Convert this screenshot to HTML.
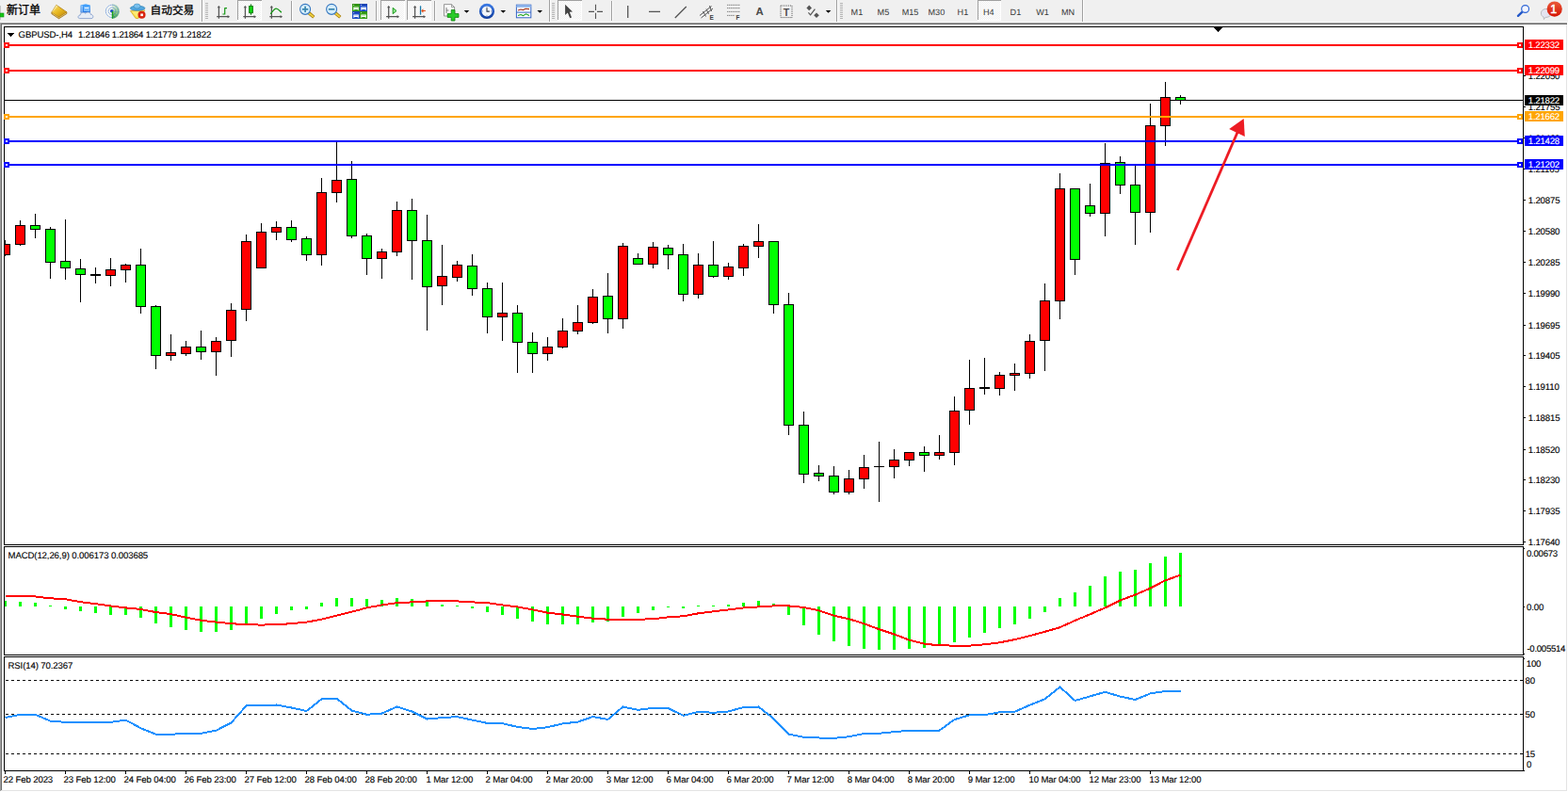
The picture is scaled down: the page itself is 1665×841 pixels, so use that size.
<!DOCTYPE html><html><head><meta charset="utf-8"><title>GBPUSD H4</title><style>
html,body{margin:0;padding:0;}
body{width:1665px;height:841px;position:relative;overflow:hidden;background:#fff;font-family:"Liberation Sans", sans-serif;}
.t{position:absolute;white-space:pre;font-size:9.6px;line-height:10px;color:#000;text-rendering:geometricPrecision;-webkit-text-stroke:0.12px currentColor;font-family:"Liberation Sans", sans-serif;}
.tb{position:absolute;white-space:pre;font-size:8.5px;line-height:10px;color:#3c3c3c;font-family:"Liberation Sans", sans-serif;}
.lab{position:absolute;left:1619px;width:41px;height:11px;color:#fff;font-size:9.3px;line-height:11px;white-space:pre;}
.lab span{position:absolute;left:4px;top:0;}
svg{position:absolute;left:0;top:0;}

</style></head><body>
<svg id="chart" width="1665" height="841" viewBox="0 0 1665 841" shape-rendering="crispEdges">
<rect x="0" y="0" width="1665" height="24" fill="#f0f0f0"/>
<rect x="0" y="23" width="1665" height="1" fill="#f8f8f8"/>
<rect x="0" y="24" width="1664" height="1" fill="#a0a0a0"/>
<rect x="1" y="25" width="1663" height="1" fill="#696969"/>
<rect x="1664" y="24" width="1" height="817" fill="#ffffff"/>
<rect x="0" y="24" width="1" height="816" fill="#a0a0a0"/><rect x="1" y="25" width="1" height="814" fill="#696969"/>
<rect x="1663" y="26" width="1" height="814" fill="#e3e3e3"/>
<rect x="1" y="839" width="1663" height="1" fill="#e3e3e3"/>
<rect x="0" y="840" width="1665" height="1" fill="#ffffff"/>
<rect x="4" y="28" width="1" height="551" fill="#000"/>
<rect x="1617" y="28" width="1" height="551" fill="#000"/>
<rect x="4" y="580" width="1" height="116" fill="#000"/>
<rect x="1617" y="580" width="1" height="116" fill="#000"/>
<rect x="4" y="697" width="1" height="122" fill="#000"/>
<rect x="1617" y="697" width="1" height="122" fill="#000"/>
<rect x="4" y="28" width="1614" height="1" fill="#000"/>
<rect x="4" y="578" width="1614" height="1" fill="#000"/>
<rect x="4" y="580" width="1614" height="1" fill="#000"/>
<rect x="4" y="695" width="1614" height="1" fill="#000"/>
<rect x="4" y="697" width="1614" height="1" fill="#000"/>
<rect x="4" y="818" width="1615" height="1" fill="#000"/>
<rect x="1618" y="582" width="1" height="1" fill="#000"/>
<rect x="1618" y="644" width="1" height="1" fill="#000"/>
<rect x="1618" y="694" width="1" height="1" fill="#000"/>
<rect x="1618" y="699" width="1" height="1" fill="#000"/>
<rect x="1618" y="80" width="2" height="1" fill="#000"/>
<rect x="1618" y="113" width="2" height="1" fill="#000"/>
<rect x="1618" y="146" width="2" height="1" fill="#000"/>
<rect x="1618" y="179" width="2" height="1" fill="#000"/>
<rect x="1618" y="212" width="2" height="1" fill="#000"/>
<rect x="1618" y="245" width="2" height="1" fill="#000"/>
<rect x="1618" y="278" width="2" height="1" fill="#000"/>
<rect x="1618" y="311" width="2" height="1" fill="#000"/>
<rect x="1618" y="345" width="2" height="1" fill="#000"/>
<rect x="1618" y="377" width="2" height="1" fill="#000"/>
<rect x="1618" y="410" width="2" height="1" fill="#000"/>
<rect x="1618" y="443" width="2" height="1" fill="#000"/>
<rect x="1618" y="477" width="2" height="1" fill="#000"/>
<rect x="1618" y="509" width="2" height="1" fill="#000"/>
<rect x="1618" y="542" width="2" height="1" fill="#000"/>
<rect x="1618" y="575" width="2" height="1" fill="#000"/>
<rect x="5" y="819" width="1" height="3" fill="#000"/>
<rect x="69" y="819" width="1" height="3" fill="#000"/>
<rect x="133" y="819" width="1" height="3" fill="#000"/>
<rect x="197" y="819" width="1" height="3" fill="#000"/>
<rect x="261" y="819" width="1" height="3" fill="#000"/>
<rect x="325" y="819" width="1" height="3" fill="#000"/>
<rect x="389" y="819" width="1" height="3" fill="#000"/>
<rect x="453" y="819" width="1" height="3" fill="#000"/>
<rect x="517" y="819" width="1" height="3" fill="#000"/>
<rect x="581" y="819" width="1" height="3" fill="#000"/>
<rect x="645" y="819" width="1" height="3" fill="#000"/>
<rect x="709" y="819" width="1" height="3" fill="#000"/>
<rect x="773" y="819" width="1" height="3" fill="#000"/>
<rect x="837" y="819" width="1" height="3" fill="#000"/>
<rect x="901" y="819" width="1" height="3" fill="#000"/>
<rect x="965" y="819" width="1" height="3" fill="#000"/>
<rect x="1029" y="819" width="1" height="3" fill="#000"/>
<rect x="1093" y="819" width="1" height="3" fill="#000"/>
<rect x="1157" y="819" width="1" height="3" fill="#000"/>
<rect x="1221" y="819" width="1" height="3" fill="#000"/>
<rect x="1289" y="29" width="9" height="1" fill="#000"/>
<rect x="1290" y="30" width="7" height="1" fill="#000"/>
<rect x="1291" y="31" width="5" height="1" fill="#000"/>
<rect x="1292" y="32" width="3" height="1" fill="#000"/>
<rect x="1293" y="33" width="1" height="1" fill="#000"/>
<rect x="5" y="106" width="1612" height="1" fill="#000"/>
<g>
<rect x="5" y="255" width="1" height="17" fill="#000"/>
<rect x="5" y="259" width="6" height="12" fill="#000"/>
<rect x="5" y="260" width="5" height="10" fill="#ff0000"/>
<rect x="21" y="234" width="1" height="27" fill="#000"/>
<rect x="16" y="239" width="11" height="21" fill="#000"/>
<rect x="17" y="240" width="9" height="19" fill="#ff0000"/>
<rect x="37" y="227" width="1" height="26" fill="#000"/>
<rect x="32" y="239" width="11" height="5" fill="#000"/>
<rect x="33" y="240" width="9" height="3" fill="#00ff00"/>
<rect x="53" y="241" width="1" height="55" fill="#000"/>
<rect x="48" y="243" width="11" height="36" fill="#000"/>
<rect x="49" y="244" width="9" height="34" fill="#00ff00"/>
<rect x="69" y="233" width="1" height="64" fill="#000"/>
<rect x="64" y="277" width="11" height="8" fill="#000"/>
<rect x="65" y="278" width="9" height="6" fill="#00ff00"/>
<rect x="85" y="275" width="1" height="46" fill="#000"/>
<rect x="80" y="285" width="11" height="7" fill="#000"/>
<rect x="81" y="286" width="9" height="5" fill="#00ff00"/>
<rect x="101" y="284" width="1" height="17" fill="#000"/>
<rect x="96" y="291" width="11" height="2" fill="#000"/>
<rect x="117" y="274" width="1" height="30" fill="#000"/>
<rect x="112" y="286" width="11" height="7" fill="#000"/>
<rect x="113" y="287" width="9" height="5" fill="#ff0000"/>
<rect x="133" y="280" width="1" height="20" fill="#000"/>
<rect x="128" y="281" width="11" height="6" fill="#000"/>
<rect x="129" y="282" width="9" height="4" fill="#ff0000"/>
<rect x="149" y="264" width="1" height="69" fill="#000"/>
<rect x="144" y="281" width="11" height="45" fill="#000"/>
<rect x="145" y="282" width="9" height="43" fill="#00ff00"/>
<rect x="165" y="324" width="1" height="68" fill="#000"/>
<rect x="160" y="325" width="11" height="53" fill="#000"/>
<rect x="161" y="326" width="9" height="51" fill="#00ff00"/>
<rect x="181" y="355" width="1" height="28" fill="#000"/>
<rect x="176" y="374" width="11" height="4" fill="#000"/>
<rect x="177" y="375" width="9" height="2" fill="#ff0000"/>
<rect x="197" y="362" width="1" height="16" fill="#000"/>
<rect x="192" y="368" width="11" height="8" fill="#000"/>
<rect x="193" y="369" width="9" height="6" fill="#ff0000"/>
<rect x="213" y="351" width="1" height="31" fill="#000"/>
<rect x="208" y="368" width="11" height="6" fill="#000"/>
<rect x="209" y="369" width="9" height="4" fill="#00ff00"/>
<rect x="229" y="358" width="1" height="41" fill="#000"/>
<rect x="224" y="362" width="11" height="12" fill="#000"/>
<rect x="225" y="363" width="9" height="10" fill="#ff0000"/>
<rect x="245" y="322" width="1" height="57" fill="#000"/>
<rect x="240" y="329" width="11" height="33" fill="#000"/>
<rect x="241" y="330" width="9" height="31" fill="#ff0000"/>
<rect x="261" y="249" width="1" height="92" fill="#000"/>
<rect x="256" y="256" width="11" height="73" fill="#000"/>
<rect x="257" y="257" width="9" height="71" fill="#ff0000"/>
<rect x="277" y="237" width="1" height="48" fill="#000"/>
<rect x="272" y="246" width="11" height="39" fill="#000"/>
<rect x="273" y="247" width="9" height="37" fill="#ff0000"/>
<rect x="293" y="235" width="1" height="20" fill="#000"/>
<rect x="288" y="241" width="11" height="6" fill="#000"/>
<rect x="289" y="242" width="9" height="4" fill="#ff0000"/>
<rect x="309" y="234" width="1" height="23" fill="#000"/>
<rect x="304" y="241" width="11" height="14" fill="#000"/>
<rect x="305" y="242" width="9" height="12" fill="#00ff00"/>
<rect x="325" y="251" width="1" height="26" fill="#000"/>
<rect x="320" y="253" width="11" height="18" fill="#000"/>
<rect x="321" y="254" width="9" height="16" fill="#00ff00"/>
<rect x="341" y="189" width="1" height="93" fill="#000"/>
<rect x="336" y="204" width="11" height="67" fill="#000"/>
<rect x="337" y="205" width="9" height="65" fill="#ff0000"/>
<rect x="357" y="151" width="1" height="64" fill="#000"/>
<rect x="352" y="191" width="11" height="14" fill="#000"/>
<rect x="353" y="192" width="9" height="12" fill="#ff0000"/>
<rect x="373" y="171" width="1" height="82" fill="#000"/>
<rect x="368" y="190" width="11" height="61" fill="#000"/>
<rect x="369" y="191" width="9" height="59" fill="#00ff00"/>
<rect x="389" y="248" width="1" height="44" fill="#000"/>
<rect x="384" y="250" width="11" height="25" fill="#000"/>
<rect x="385" y="251" width="9" height="23" fill="#00ff00"/>
<rect x="405" y="264" width="1" height="32" fill="#000"/>
<rect x="400" y="267" width="11" height="8" fill="#000"/>
<rect x="401" y="268" width="9" height="6" fill="#ff0000"/>
<rect x="421" y="214" width="1" height="58" fill="#000"/>
<rect x="416" y="223" width="11" height="45" fill="#000"/>
<rect x="417" y="224" width="9" height="43" fill="#ff0000"/>
<rect x="437" y="211" width="1" height="86" fill="#000"/>
<rect x="432" y="223" width="11" height="33" fill="#000"/>
<rect x="433" y="224" width="9" height="31" fill="#00ff00"/>
<rect x="453" y="228" width="1" height="123" fill="#000"/>
<rect x="448" y="255" width="11" height="50" fill="#000"/>
<rect x="449" y="256" width="9" height="48" fill="#00ff00"/>
<rect x="469" y="260" width="1" height="64" fill="#000"/>
<rect x="464" y="293" width="11" height="11" fill="#000"/>
<rect x="465" y="294" width="9" height="9" fill="#ff0000"/>
<rect x="485" y="277" width="1" height="22" fill="#000"/>
<rect x="480" y="281" width="11" height="14" fill="#000"/>
<rect x="481" y="282" width="9" height="12" fill="#ff0000"/>
<rect x="501" y="270" width="1" height="44" fill="#000"/>
<rect x="496" y="282" width="11" height="25" fill="#000"/>
<rect x="497" y="283" width="9" height="23" fill="#00ff00"/>
<rect x="517" y="300" width="1" height="54" fill="#000"/>
<rect x="512" y="306" width="11" height="31" fill="#000"/>
<rect x="513" y="307" width="9" height="29" fill="#00ff00"/>
<rect x="533" y="300" width="1" height="62" fill="#000"/>
<rect x="528" y="332" width="11" height="5" fill="#000"/>
<rect x="529" y="333" width="9" height="3" fill="#ff0000"/>
<rect x="549" y="324" width="1" height="72" fill="#000"/>
<rect x="544" y="332" width="11" height="32" fill="#000"/>
<rect x="545" y="333" width="9" height="30" fill="#00ff00"/>
<rect x="565" y="353" width="1" height="43" fill="#000"/>
<rect x="560" y="363" width="11" height="13" fill="#000"/>
<rect x="561" y="364" width="9" height="11" fill="#00ff00"/>
<rect x="581" y="358" width="1" height="25" fill="#000"/>
<rect x="576" y="368" width="11" height="8" fill="#000"/>
<rect x="577" y="369" width="9" height="6" fill="#ff0000"/>
<rect x="597" y="338" width="1" height="32" fill="#000"/>
<rect x="592" y="351" width="11" height="18" fill="#000"/>
<rect x="593" y="352" width="9" height="16" fill="#ff0000"/>
<rect x="613" y="324" width="1" height="31" fill="#000"/>
<rect x="608" y="342" width="11" height="10" fill="#000"/>
<rect x="609" y="343" width="9" height="8" fill="#ff0000"/>
<rect x="629" y="307" width="1" height="37" fill="#000"/>
<rect x="624" y="315" width="11" height="28" fill="#000"/>
<rect x="625" y="316" width="9" height="26" fill="#ff0000"/>
<rect x="645" y="290" width="1" height="64" fill="#000"/>
<rect x="640" y="314" width="11" height="25" fill="#000"/>
<rect x="641" y="315" width="9" height="23" fill="#00ff00"/>
<rect x="661" y="258" width="1" height="91" fill="#000"/>
<rect x="656" y="261" width="11" height="78" fill="#000"/>
<rect x="657" y="262" width="9" height="76" fill="#ff0000"/>
<rect x="677" y="269" width="1" height="12" fill="#000"/>
<rect x="672" y="274" width="11" height="7" fill="#000"/>
<rect x="673" y="275" width="9" height="5" fill="#00ff00"/>
<rect x="693" y="257" width="1" height="28" fill="#000"/>
<rect x="688" y="262" width="11" height="19" fill="#000"/>
<rect x="689" y="263" width="9" height="17" fill="#ff0000"/>
<rect x="709" y="260" width="1" height="26" fill="#000"/>
<rect x="704" y="263" width="11" height="8" fill="#000"/>
<rect x="705" y="264" width="9" height="6" fill="#00ff00"/>
<rect x="725" y="259" width="1" height="61" fill="#000"/>
<rect x="720" y="270" width="11" height="43" fill="#000"/>
<rect x="721" y="271" width="9" height="41" fill="#00ff00"/>
<rect x="741" y="269" width="1" height="48" fill="#000"/>
<rect x="736" y="281" width="11" height="32" fill="#000"/>
<rect x="737" y="282" width="9" height="30" fill="#ff0000"/>
<rect x="757" y="256" width="1" height="39" fill="#000"/>
<rect x="752" y="281" width="11" height="13" fill="#000"/>
<rect x="753" y="282" width="9" height="11" fill="#00ff00"/>
<rect x="773" y="279" width="1" height="18" fill="#000"/>
<rect x="768" y="283" width="11" height="11" fill="#000"/>
<rect x="769" y="284" width="9" height="9" fill="#ff0000"/>
<rect x="789" y="259" width="1" height="34" fill="#000"/>
<rect x="784" y="261" width="11" height="24" fill="#000"/>
<rect x="785" y="262" width="9" height="22" fill="#ff0000"/>
<rect x="805" y="238" width="1" height="36" fill="#000"/>
<rect x="800" y="256" width="11" height="6" fill="#000"/>
<rect x="801" y="257" width="9" height="4" fill="#ff0000"/>
<rect x="821" y="256" width="1" height="77" fill="#000"/>
<rect x="816" y="256" width="11" height="68" fill="#000"/>
<rect x="817" y="257" width="9" height="66" fill="#00ff00"/>
<rect x="837" y="311" width="1" height="151" fill="#000"/>
<rect x="832" y="323" width="11" height="129" fill="#000"/>
<rect x="833" y="324" width="9" height="127" fill="#00ff00"/>
<rect x="853" y="437" width="1" height="76" fill="#000"/>
<rect x="848" y="451" width="11" height="53" fill="#000"/>
<rect x="849" y="452" width="9" height="51" fill="#00ff00"/>
<rect x="869" y="494" width="1" height="17" fill="#000"/>
<rect x="864" y="502" width="11" height="4" fill="#000"/>
<rect x="865" y="503" width="9" height="2" fill="#00ff00"/>
<rect x="885" y="495" width="1" height="30" fill="#000"/>
<rect x="880" y="505" width="11" height="18" fill="#000"/>
<rect x="881" y="506" width="9" height="16" fill="#00ff00"/>
<rect x="901" y="499" width="1" height="26" fill="#000"/>
<rect x="896" y="508" width="11" height="15" fill="#000"/>
<rect x="897" y="509" width="9" height="13" fill="#ff0000"/>
<rect x="917" y="483" width="1" height="36" fill="#000"/>
<rect x="912" y="496" width="11" height="13" fill="#000"/>
<rect x="913" y="497" width="9" height="11" fill="#ff0000"/>
<rect x="933" y="469" width="1" height="64" fill="#000"/>
<rect x="928" y="495" width="11" height="1" fill="#000"/>
<rect x="949" y="477" width="1" height="31" fill="#000"/>
<rect x="944" y="488" width="11" height="8" fill="#000"/>
<rect x="945" y="489" width="9" height="6" fill="#ff0000"/>
<rect x="965" y="480" width="1" height="15" fill="#000"/>
<rect x="960" y="480" width="11" height="9" fill="#000"/>
<rect x="961" y="481" width="9" height="7" fill="#ff0000"/>
<rect x="981" y="474" width="1" height="27" fill="#000"/>
<rect x="976" y="480" width="11" height="4" fill="#000"/>
<rect x="977" y="481" width="9" height="2" fill="#00ff00"/>
<rect x="997" y="462" width="1" height="26" fill="#000"/>
<rect x="992" y="480" width="11" height="4" fill="#000"/>
<rect x="993" y="481" width="9" height="2" fill="#ff0000"/>
<rect x="1013" y="421" width="1" height="73" fill="#000"/>
<rect x="1008" y="436" width="11" height="45" fill="#000"/>
<rect x="1009" y="437" width="9" height="43" fill="#ff0000"/>
<rect x="1029" y="382" width="1" height="69" fill="#000"/>
<rect x="1024" y="412" width="11" height="24" fill="#000"/>
<rect x="1025" y="413" width="9" height="22" fill="#ff0000"/>
<rect x="1045" y="380" width="1" height="39" fill="#000"/>
<rect x="1040" y="411" width="11" height="2" fill="#000"/>
<rect x="1061" y="395" width="1" height="25" fill="#000"/>
<rect x="1056" y="398" width="11" height="15" fill="#000"/>
<rect x="1057" y="399" width="9" height="13" fill="#ff0000"/>
<rect x="1077" y="386" width="1" height="29" fill="#000"/>
<rect x="1072" y="396" width="11" height="3" fill="#000"/>
<rect x="1073" y="397" width="9" height="1" fill="#ff0000"/>
<rect x="1093" y="355" width="1" height="47" fill="#000"/>
<rect x="1088" y="362" width="11" height="35" fill="#000"/>
<rect x="1089" y="363" width="9" height="33" fill="#ff0000"/>
<rect x="1109" y="301" width="1" height="93" fill="#000"/>
<rect x="1104" y="319" width="11" height="43" fill="#000"/>
<rect x="1105" y="320" width="9" height="41" fill="#ff0000"/>
<rect x="1125" y="184" width="1" height="155" fill="#000"/>
<rect x="1120" y="200" width="11" height="120" fill="#000"/>
<rect x="1121" y="201" width="9" height="118" fill="#ff0000"/>
<rect x="1141" y="200" width="1" height="92" fill="#000"/>
<rect x="1136" y="200" width="11" height="76" fill="#000"/>
<rect x="1137" y="201" width="9" height="74" fill="#00ff00"/>
<rect x="1157" y="195" width="1" height="35" fill="#000"/>
<rect x="1152" y="218" width="11" height="9" fill="#000"/>
<rect x="1153" y="219" width="9" height="7" fill="#00ff00"/>
<rect x="1173" y="152" width="1" height="99" fill="#000"/>
<rect x="1168" y="173" width="11" height="54" fill="#000"/>
<rect x="1169" y="174" width="9" height="52" fill="#ff0000"/>
<rect x="1189" y="166" width="1" height="40" fill="#000"/>
<rect x="1184" y="172" width="11" height="25" fill="#000"/>
<rect x="1185" y="173" width="9" height="23" fill="#00ff00"/>
<rect x="1205" y="176" width="1" height="84" fill="#000"/>
<rect x="1200" y="196" width="11" height="30" fill="#000"/>
<rect x="1201" y="197" width="9" height="28" fill="#00ff00"/>
<rect x="1221" y="110" width="1" height="137" fill="#000"/>
<rect x="1216" y="133" width="11" height="93" fill="#000"/>
<rect x="1217" y="134" width="9" height="91" fill="#ff0000"/>
<rect x="1237" y="87" width="1" height="68" fill="#000"/>
<rect x="1232" y="103" width="11" height="31" fill="#000"/>
<rect x="1233" y="104" width="9" height="29" fill="#ff0000"/>
<rect x="1253" y="101" width="1" height="10" fill="#000"/>
<rect x="1248" y="103" width="11" height="4" fill="#000"/>
<rect x="1249" y="104" width="9" height="2" fill="#00ff00"/>
</g>
<rect x="5" y="47" width="1612" height="2" fill="#ff0000"/>
<rect x="4" y="45" width="6" height="6" fill="#ff0000"/><rect x="6" y="47" width="2" height="2" fill="#fff"/>
<rect x="1611" y="45" width="6" height="6" fill="#ff0000"/><rect x="1613" y="47" width="2" height="2" fill="#fff"/>
<rect x="5" y="74" width="1612" height="2" fill="#ff0000"/>
<rect x="4" y="72" width="6" height="6" fill="#ff0000"/><rect x="6" y="74" width="2" height="2" fill="#fff"/>
<rect x="1611" y="72" width="6" height="6" fill="#ff0000"/><rect x="1613" y="74" width="2" height="2" fill="#fff"/>
<rect x="5" y="123" width="1612" height="2" fill="#ffa500"/>
<rect x="4" y="121" width="6" height="6" fill="#ffa500"/><rect x="6" y="123" width="2" height="2" fill="#fff"/>
<rect x="1611" y="121" width="6" height="6" fill="#ffa500"/><rect x="1613" y="123" width="2" height="2" fill="#fff"/>
<rect x="5" y="149" width="1612" height="2" fill="#0000ff"/>
<rect x="4" y="147" width="6" height="6" fill="#0000ff"/><rect x="6" y="149" width="2" height="2" fill="#fff"/>
<rect x="1611" y="147" width="6" height="6" fill="#0000ff"/><rect x="1613" y="149" width="2" height="2" fill="#fff"/>
<rect x="5" y="174" width="1612" height="2" fill="#0000ff"/>
<rect x="4" y="172" width="6" height="6" fill="#0000ff"/><rect x="6" y="174" width="2" height="2" fill="#fff"/>
<rect x="1611" y="172" width="6" height="6" fill="#0000ff"/><rect x="1613" y="174" width="2" height="2" fill="#fff"/>
<g shape-rendering="geometricPrecision"><line x1="1250.3" y1="287" x2="1314" y2="140.5" stroke="#ed1c24" stroke-width="2.8"/><polygon points="1320.7,126 1305.2,137 1321.8,145" fill="#ed1c24"/></g>
<rect x="5" y="638" width="2" height="6" fill="#00ff00"/>
<rect x="20" y="639" width="3" height="5" fill="#00ff00"/>
<rect x="36" y="640" width="3" height="4" fill="#00ff00"/>
<rect x="52" y="643" width="3" height="1" fill="#00ff00"/>
<rect x="68" y="644" width="3" height="3" fill="#00ff00"/>
<rect x="84" y="644" width="3" height="5" fill="#00ff00"/>
<rect x="100" y="644" width="3" height="7" fill="#00ff00"/>
<rect x="116" y="644" width="3" height="9" fill="#00ff00"/>
<rect x="132" y="644" width="3" height="9" fill="#00ff00"/>
<rect x="148" y="644" width="3" height="12" fill="#00ff00"/>
<rect x="164" y="644" width="3" height="18" fill="#00ff00"/>
<rect x="180" y="644" width="3" height="22" fill="#00ff00"/>
<rect x="196" y="644" width="3" height="25" fill="#00ff00"/>
<rect x="212" y="644" width="3" height="27" fill="#00ff00"/>
<rect x="228" y="644" width="3" height="27" fill="#00ff00"/>
<rect x="244" y="644" width="3" height="25" fill="#00ff00"/>
<rect x="260" y="644" width="3" height="20" fill="#00ff00"/>
<rect x="276" y="644" width="3" height="13" fill="#00ff00"/>
<rect x="292" y="644" width="3" height="8" fill="#00ff00"/>
<rect x="308" y="644" width="3" height="4" fill="#00ff00"/>
<rect x="324" y="644" width="3" height="3" fill="#00ff00"/>
<rect x="340" y="640" width="3" height="4" fill="#00ff00"/>
<rect x="356" y="635" width="3" height="9" fill="#00ff00"/>
<rect x="372" y="635" width="3" height="9" fill="#00ff00"/>
<rect x="388" y="636" width="3" height="8" fill="#00ff00"/>
<rect x="404" y="637" width="3" height="7" fill="#00ff00"/>
<rect x="420" y="635" width="3" height="9" fill="#00ff00"/>
<rect x="436" y="636" width="3" height="8" fill="#00ff00"/>
<rect x="452" y="638" width="3" height="6" fill="#00ff00"/>
<rect x="468" y="642" width="3" height="2" fill="#00ff00"/>
<rect x="484" y="643" width="3" height="1" fill="#00ff00"/>
<rect x="500" y="644" width="3" height="2" fill="#00ff00"/>
<rect x="516" y="644" width="3" height="6" fill="#00ff00"/>
<rect x="532" y="644" width="3" height="9" fill="#00ff00"/>
<rect x="548" y="644" width="3" height="13" fill="#00ff00"/>
<rect x="564" y="644" width="3" height="16" fill="#00ff00"/>
<rect x="580" y="644" width="3" height="19" fill="#00ff00"/>
<rect x="596" y="644" width="3" height="19" fill="#00ff00"/>
<rect x="612" y="644" width="3" height="19" fill="#00ff00"/>
<rect x="628" y="644" width="3" height="17" fill="#00ff00"/>
<rect x="644" y="644" width="3" height="16" fill="#00ff00"/>
<rect x="660" y="644" width="3" height="11" fill="#00ff00"/>
<rect x="676" y="644" width="3" height="7" fill="#00ff00"/>
<rect x="692" y="644" width="3" height="4" fill="#00ff00"/>
<rect x="708" y="644" width="3" height="1" fill="#00ff00"/>
<rect x="724" y="644" width="3" height="2" fill="#00ff00"/>
<rect x="740" y="643" width="3" height="1" fill="#00ff00"/>
<rect x="756" y="643" width="3" height="1" fill="#00ff00"/>
<rect x="772" y="642" width="3" height="2" fill="#00ff00"/>
<rect x="788" y="640" width="3" height="4" fill="#00ff00"/>
<rect x="804" y="638" width="3" height="6" fill="#00ff00"/>
<rect x="820" y="641" width="3" height="3" fill="#00ff00"/>
<rect x="836" y="644" width="3" height="9" fill="#00ff00"/>
<rect x="852" y="644" width="3" height="20" fill="#00ff00"/>
<rect x="868" y="644" width="3" height="30" fill="#00ff00"/>
<rect x="884" y="644" width="3" height="37" fill="#00ff00"/>
<rect x="900" y="644" width="3" height="42" fill="#00ff00"/>
<rect x="916" y="644" width="3" height="45" fill="#00ff00"/>
<rect x="932" y="644" width="3" height="46" fill="#00ff00"/>
<rect x="948" y="644" width="3" height="46" fill="#00ff00"/>
<rect x="964" y="644" width="3" height="45" fill="#00ff00"/>
<rect x="980" y="644" width="3" height="44" fill="#00ff00"/>
<rect x="996" y="644" width="3" height="42" fill="#00ff00"/>
<rect x="1012" y="644" width="3" height="38" fill="#00ff00"/>
<rect x="1028" y="644" width="3" height="33" fill="#00ff00"/>
<rect x="1044" y="644" width="3" height="28" fill="#00ff00"/>
<rect x="1060" y="644" width="3" height="23" fill="#00ff00"/>
<rect x="1076" y="644" width="3" height="19" fill="#00ff00"/>
<rect x="1092" y="644" width="3" height="13" fill="#00ff00"/>
<rect x="1108" y="644" width="3" height="6" fill="#00ff00"/>
<rect x="1124" y="635" width="3" height="9" fill="#00ff00"/>
<rect x="1140" y="629" width="3" height="15" fill="#00ff00"/>
<rect x="1156" y="622" width="3" height="22" fill="#00ff00"/>
<rect x="1172" y="612" width="3" height="32" fill="#00ff00"/>
<rect x="1188" y="607" width="3" height="37" fill="#00ff00"/>
<rect x="1204" y="605" width="3" height="39" fill="#00ff00"/>
<rect x="1220" y="598" width="3" height="46" fill="#00ff00"/>
<rect x="1236" y="591" width="3" height="53" fill="#00ff00"/>
<rect x="1252" y="587" width="3" height="57" fill="#00ff00"/>
<polyline points="5.5,633.3 21.5,633.3 37.5,633.5 53.5,635.3 69.5,636.3 85.5,639.2 101.5,641.2 117.5,643.4 133.5,645.4 149.5,647 165.5,650.1 181.5,652.1 197.5,655.7 213.5,658.7 229.5,660.6 245.5,662.2 261.5,663.2 277.5,663.6 293.5,663.2 309.5,662.2 325.5,660.6 341.5,657.7 357.5,653.7 373.5,649.7 389.5,645.4 405.5,642.4 421.5,640.2 437.5,639.4 453.5,638.4 469.5,638.2 485.5,638.4 501.5,639.4 517.5,640.2 533.5,642.4 549.5,644.4 565.5,647.4 581.5,650.7 597.5,652.5 613.5,654.7 629.5,656.7 645.5,657.7 661.5,657.7 677.5,657.7 693.5,657.3 709.5,655.3 725.5,654.3 741.5,651.3 757.5,649.3 773.5,647.4 789.5,645.4 805.5,644.4 821.5,643.4 837.5,643.4 853.5,645 869.5,648.3 885.5,653.7 901.5,657.3 917.5,662.2 933.5,668.2 949.5,673.5 965.5,679.6 981.5,683.7 997.5,685.3 1013.5,685.6 1029.5,685.6 1045.5,684.3 1061.5,682.3 1077.5,679.1 1093.5,675.1 1109.5,670.8 1125.5,666.2 1141.5,658.9 1157.5,652.3 1173.5,645.4 1189.5,637.5 1205.5,631.5 1221.5,624.6 1237.5,616.3 1253.5,610.7" fill="none" stroke="#ff0000" stroke-width="2" shape-rendering="crispEdges"/>
<line x1="6" y1="722.5" x2="1617" y2="722.5" stroke="#000" stroke-width="1" stroke-dasharray="3 3"/>
<line x1="6" y1="758.5" x2="1617" y2="758.5" stroke="#000" stroke-width="1" stroke-dasharray="3 3"/>
<line x1="6" y1="800.5" x2="1617" y2="800.5" stroke="#000" stroke-width="1" stroke-dasharray="3 3"/>
<polyline points="5.5,762 21.5,758.8 37.5,758.8 53.5,765.6 69.5,766.9 85.5,766.9 101.5,766.9 117.5,766.9 133.5,764.6 149.5,773.2 165.5,779.8 181.5,779.8 197.5,778.8 213.5,778.8 229.5,775.7 245.5,767.4 261.5,749.5 277.5,749.2 293.5,748.5 309.5,751.5 325.5,755 341.5,742.4 357.5,741.7 373.5,754.5 389.5,758.8 405.5,757.6 421.5,750.5 437.5,755.5 453.5,763.6 469.5,762.1 485.5,761.1 501.5,764.6 517.5,767.9 533.5,768.2 549.5,771.9 565.5,774 581.5,772.2 597.5,768.4 613.5,766.6 629.5,761.1 645.5,763.9 661.5,750.5 677.5,753.8 693.5,751.8 709.5,752 725.5,759.8 741.5,755.8 757.5,756.8 773.5,755.5 789.5,751 805.5,750.5 821.5,763.1 837.5,779.5 853.5,782.8 869.5,783.5 885.5,783.8 901.5,782.3 917.5,779 933.5,778.8 949.5,777.2 965.5,775.7 981.5,775.7 997.5,775.7 1013.5,764.1 1029.5,759.3 1045.5,759.1 1061.5,756.3 1077.5,755.8 1093.5,748.7 1109.5,742.4 1125.5,729.5 1141.5,744 1157.5,739.4 1173.5,734.8 1189.5,739.6 1205.5,743 1221.5,736.4 1237.5,734 1253.5,734" fill="none" stroke="#1e90ff" stroke-width="2" shape-rendering="crispEdges"/>
</svg>
<div class="t" style="left:1622.77px;top:76.67px;letter-spacing:-0.166px;color:#000">1.22050</div>
<div class="t" style="left:1622.77px;top:109.67px;letter-spacing:-0.161px;color:#000">1.21755</div>
<div class="t" style="left:1622.77px;top:142.67px;letter-spacing:-0.166px;color:#000">1.21460</div>
<div class="t" style="left:1622.77px;top:175.67px;letter-spacing:-0.161px;color:#000">1.21165</div>
<div class="t" style="left:1622.77px;top:208.67px;letter-spacing:-0.161px;color:#000">1.20875</div>
<div class="t" style="left:1622.77px;top:241.67px;letter-spacing:-0.166px;color:#000">1.20580</div>
<div class="t" style="left:1622.77px;top:274.67px;letter-spacing:-0.161px;color:#000">1.20285</div>
<div class="t" style="left:1622.77px;top:307.67px;letter-spacing:-0.166px;color:#000">1.19990</div>
<div class="t" style="left:1622.77px;top:341.67px;letter-spacing:-0.161px;color:#000">1.19695</div>
<div class="t" style="left:1622.77px;top:373.67px;letter-spacing:-0.161px;color:#000">1.19405</div>
<div class="t" style="left:1622.77px;top:406.67px;letter-spacing:-0.166px;color:#000">1.19110</div>
<div class="t" style="left:1622.77px;top:439.67px;letter-spacing:-0.161px;color:#000">1.18815</div>
<div class="t" style="left:1622.77px;top:473.67px;letter-spacing:-0.166px;color:#000">1.18520</div>
<div class="t" style="left:1622.77px;top:505.67px;letter-spacing:-0.166px;color:#000">1.18230</div>
<div class="t" style="left:1622.77px;top:538.67px;letter-spacing:-0.161px;color:#000">1.17935</div>
<div class="t" style="left:1622.77px;top:571.67px;letter-spacing:-0.166px;color:#000">1.17640</div>
<div class="t" style="left:1621.03px;top:583.67px;letter-spacing:-0.251px;color:#000">0.00673</div>
<div class="t" style="left:1621.03px;top:640.67px;letter-spacing:-0.145px;color:#000">0.00</div>
<div class="t" style="left:1621.47px;top:684.67px;letter-spacing:-0.291px;color:#000">-0.005514</div>
<div class="t" style="left:1620.77px;top:700.67px;letter-spacing:-0.205px;color:#000">100</div>
<div class="t" style="left:1619.48px;top:718.67px;letter-spacing:-0.086px;color:#000">80</div>
<div class="t" style="left:1619.52px;top:754.67px;letter-spacing:-0.119px;color:#000">50</div>
<div class="t" style="left:1619.67px;top:796.67px;letter-spacing:-0.244px;color:#000">15</div>
<div class="t" style="left:1621.12px;top:807.67px;letter-spacing:-0.150px;color:#000">0</div>
<div class="lab" style="top:42px;background:#ff0000"></div>
<div class="t" style="left:1622.77px;top:43.67px;letter-spacing:-0.215px;color:#fff">1.22332</div>
<div class="lab" style="top:69px;background:#ff0000"></div>
<div class="t" style="left:1622.77px;top:70.67px;letter-spacing:-0.219px;color:#fff">1.22099</div>
<div class="lab" style="top:101px;background:#000"></div>
<div class="t" style="left:1622.77px;top:102.67px;letter-spacing:-0.215px;color:#fff">1.21822</div>
<div class="lab" style="top:118px;background:#ffa500"></div>
<div class="t" style="left:1622.77px;top:119.67px;letter-spacing:-0.215px;color:#fff">1.21662</div>
<div class="lab" style="top:144px;background:#0000ff"></div>
<div class="t" style="left:1622.77px;top:145.67px;letter-spacing:-0.226px;color:#fff">1.21428</div>
<div class="lab" style="top:169px;background:#0000ff"></div>
<div class="t" style="left:1622.77px;top:170.67px;letter-spacing:-0.215px;color:#fff">1.21202</div>
<svg width="20" height="50" style="left:0;top:0" shape-rendering="crispEdges"><rect x="8" y="35" width="7" height="1" fill="#000"/><rect x="9" y="36" width="5" height="1" fill="#000"/><rect x="10" y="37" width="3" height="1" fill="#000"/><rect x="11" y="38" width="1" height="1" fill="#000"/></svg>
<div class="t" style="left:19.62px;top:32.67px;letter-spacing:-0.135px;color:#000">GBPUSD-,H4</div>
<div class="t" style="left:82.97px;top:32.67px;letter-spacing:-0.191px;color:#000">1.21846</div>
<div class="t" style="left:118.87px;top:32.67px;letter-spacing:-0.215px;color:#000">1.21864</div>
<div class="t" style="left:154.67px;top:32.67px;letter-spacing:-0.186px;color:#000">1.21779</div>
<div class="t" style="left:190.67px;top:32.67px;letter-spacing:-0.181px;color:#000">1.21822</div>
<div class="t" style="left:8.51px;top:585.67px;letter-spacing:-0.110px;color:#000">MACD(12,26,9) 0.006173 0.003685</div>
<div class="t" style="left:8.51px;top:702.67px;letter-spacing:-0.112px;color:#000">RSI(14) 70.2367</div>
<div class="t" style="left:3.62px;top:823.67px;letter-spacing:-0.129px;color:#000">22 Feb 2023</div>
<div class="t" style="left:67.62px;top:823.67px;letter-spacing:-0.129px;color:#000">23 Feb 12:00</div>
<div class="t" style="left:131.62px;top:823.67px;letter-spacing:-0.129px;color:#000">24 Feb 04:00</div>
<div class="t" style="left:195.62px;top:823.67px;letter-spacing:-0.129px;color:#000">26 Feb 23:00</div>
<div class="t" style="left:259.62px;top:823.67px;letter-spacing:-0.129px;color:#000">27 Feb 12:00</div>
<div class="t" style="left:323.62px;top:823.67px;letter-spacing:-0.129px;color:#000">28 Feb 04:00</div>
<div class="t" style="left:387.62px;top:823.67px;letter-spacing:-0.129px;color:#000">28 Feb 20:00</div>
<div class="t" style="left:452.47px;top:823.67px;letter-spacing:-0.129px;color:#000">1 Mar 12:00</div>
<div class="t" style="left:515.62px;top:823.67px;letter-spacing:-0.129px;color:#000">2 Mar 04:00</div>
<div class="t" style="left:579.62px;top:823.67px;letter-spacing:-0.129px;color:#000">2 Mar 20:00</div>
<div class="t" style="left:643.73px;top:823.67px;letter-spacing:-0.129px;color:#000">3 Mar 12:00</div>
<div class="t" style="left:707.61px;top:823.67px;letter-spacing:-0.129px;color:#000">6 Mar 04:00</div>
<div class="t" style="left:771.61px;top:823.67px;letter-spacing:-0.129px;color:#000">6 Mar 20:00</div>
<div class="t" style="left:835.61px;top:823.67px;letter-spacing:-0.129px;color:#000">7 Mar 12:00</div>
<div class="t" style="left:899.68px;top:823.67px;letter-spacing:-0.129px;color:#000">8 Mar 04:00</div>
<div class="t" style="left:963.68px;top:823.67px;letter-spacing:-0.129px;color:#000">8 Mar 20:00</div>
<div class="t" style="left:1027.65px;top:823.67px;letter-spacing:-0.129px;color:#000">9 Mar 12:00</div>
<div class="t" style="left:1092.47px;top:823.67px;letter-spacing:-0.129px;color:#000">10 Mar 04:00</div>
<div class="t" style="left:1156.47px;top:823.67px;letter-spacing:-0.129px;color:#000">12 Mar 23:00</div>
<div class="t" style="left:1220.47px;top:823.67px;letter-spacing:-0.129px;color:#000">13 Mar 12:00</div>
<svg id="tb" width="1665" height="26" viewBox="0 0 1665 26" style="left:0;top:0">
<defs>
<linearGradient id="gold" x1="0" y1="0" x2="1" y2="1"><stop offset="0" stop-color="#fbe27a"/><stop offset="0.5" stop-color="#e8b820"/><stop offset="1" stop-color="#b8800c"/></linearGradient>
<linearGradient id="blu" x1="0" y1="0" x2="0" y2="1"><stop offset="0" stop-color="#4aa8ff"/><stop offset="1" stop-color="#1c6fe0"/></linearGradient>
<linearGradient id="badge" x1="0" y1="0" x2="0" y2="1"><stop offset="0" stop-color="#ea5a3a"/><stop offset="1" stop-color="#d41404"/></linearGradient>
<linearGradient id="clk" x1="0" y1="0" x2="0" y2="1"><stop offset="0" stop-color="#3c7ce8"/><stop offset="1" stop-color="#103c9c"/></linearGradient>
<radialGradient id="sig" cx="0.5" cy="0.5" r="0.5"><stop offset="0" stop-color="#ffffff"/><stop offset="1" stop-color="#d8e8d8"/></radialGradient>
<pattern id="dots" width="2" height="2" patternUnits="userSpaceOnUse"><rect width="2" height="2" fill="#efefef"/><rect width="1" height="1" fill="#ffffff"/><rect x="1" y="1" width="1" height="1" fill="#ffffff"/></pattern>
</defs>
<rect x="252" y="0" width="26" height="22" fill="url(#dots)" shape-rendering="crispEdges"/>
<rect x="252" y="0" width="26" height="1" fill="#a0a0a0" shape-rendering="crispEdges"/>
<rect x="252" y="0" width="1" height="22" fill="#a0a0a0" shape-rendering="crispEdges"/>
<rect x="277" y="1" width="1" height="21" fill="#ffffff" shape-rendering="crispEdges"/>
<rect x="252" y="21" width="26" height="1" fill="#ffffff" shape-rendering="crispEdges"/>
<rect x="404" y="0" width="26" height="22" fill="url(#dots)" shape-rendering="crispEdges"/>
<rect x="404" y="0" width="26" height="1" fill="#a0a0a0" shape-rendering="crispEdges"/>
<rect x="404" y="0" width="1" height="22" fill="#a0a0a0" shape-rendering="crispEdges"/>
<rect x="429" y="1" width="1" height="21" fill="#ffffff" shape-rendering="crispEdges"/>
<rect x="404" y="21" width="26" height="1" fill="#ffffff" shape-rendering="crispEdges"/>
<rect x="432" y="0" width="26" height="22" fill="url(#dots)" shape-rendering="crispEdges"/>
<rect x="432" y="0" width="26" height="1" fill="#a0a0a0" shape-rendering="crispEdges"/>
<rect x="432" y="0" width="1" height="22" fill="#a0a0a0" shape-rendering="crispEdges"/>
<rect x="457" y="1" width="1" height="21" fill="#ffffff" shape-rendering="crispEdges"/>
<rect x="432" y="21" width="26" height="1" fill="#ffffff" shape-rendering="crispEdges"/>
<rect x="592" y="0" width="26" height="22" fill="url(#dots)" shape-rendering="crispEdges"/>
<rect x="592" y="0" width="26" height="1" fill="#a0a0a0" shape-rendering="crispEdges"/>
<rect x="592" y="0" width="1" height="22" fill="#a0a0a0" shape-rendering="crispEdges"/>
<rect x="617" y="1" width="1" height="21" fill="#ffffff" shape-rendering="crispEdges"/>
<rect x="592" y="21" width="26" height="1" fill="#ffffff" shape-rendering="crispEdges"/>
<rect x="1038" y="0" width="25" height="22" fill="url(#dots)" shape-rendering="crispEdges"/>
<rect x="1038" y="0" width="25" height="1" fill="#a0a0a0" shape-rendering="crispEdges"/>
<rect x="1038" y="0" width="1" height="22" fill="#a0a0a0" shape-rendering="crispEdges"/>
<rect x="1062" y="1" width="1" height="21" fill="#ffffff" shape-rendering="crispEdges"/>
<rect x="1038" y="21" width="25" height="1" fill="#ffffff" shape-rendering="crispEdges"/>
<rect x="214" y="0" width="1" height="23" fill="#a0a0a0" shape-rendering="crispEdges"/><rect x="215" y="0" width="1" height="23" fill="#ffffff" shape-rendering="crispEdges"/>
<rect x="218" y="3" width="3" height="1" fill="#b4b4b4" shape-rendering="crispEdges"/>
<rect x="218" y="5" width="3" height="1" fill="#b4b4b4" shape-rendering="crispEdges"/>
<rect x="218" y="7" width="3" height="1" fill="#b4b4b4" shape-rendering="crispEdges"/>
<rect x="218" y="9" width="3" height="1" fill="#b4b4b4" shape-rendering="crispEdges"/>
<rect x="218" y="11" width="3" height="1" fill="#b4b4b4" shape-rendering="crispEdges"/>
<rect x="218" y="13" width="3" height="1" fill="#b4b4b4" shape-rendering="crispEdges"/>
<rect x="218" y="15" width="3" height="1" fill="#b4b4b4" shape-rendering="crispEdges"/>
<rect x="218" y="17" width="3" height="1" fill="#b4b4b4" shape-rendering="crispEdges"/>
<rect x="218" y="19" width="3" height="1" fill="#b4b4b4" shape-rendering="crispEdges"/>
<rect x="309" y="1" width="1" height="21" fill="#a0a0a0" shape-rendering="crispEdges"/><rect x="310" y="1" width="1" height="21" fill="#ffffff" shape-rendering="crispEdges"/>
<rect x="399" y="1" width="1" height="21" fill="#a0a0a0" shape-rendering="crispEdges"/><rect x="400" y="1" width="1" height="21" fill="#ffffff" shape-rendering="crispEdges"/>
<rect x="461" y="1" width="1" height="21" fill="#a0a0a0" shape-rendering="crispEdges"/><rect x="462" y="1" width="1" height="21" fill="#ffffff" shape-rendering="crispEdges"/>
<rect x="583" y="0" width="1" height="23" fill="#a0a0a0" shape-rendering="crispEdges"/><rect x="584" y="0" width="1" height="23" fill="#ffffff" shape-rendering="crispEdges"/>
<rect x="586" y="3" width="3" height="1" fill="#b4b4b4" shape-rendering="crispEdges"/>
<rect x="586" y="5" width="3" height="1" fill="#b4b4b4" shape-rendering="crispEdges"/>
<rect x="586" y="7" width="3" height="1" fill="#b4b4b4" shape-rendering="crispEdges"/>
<rect x="586" y="9" width="3" height="1" fill="#b4b4b4" shape-rendering="crispEdges"/>
<rect x="586" y="11" width="3" height="1" fill="#b4b4b4" shape-rendering="crispEdges"/>
<rect x="586" y="13" width="3" height="1" fill="#b4b4b4" shape-rendering="crispEdges"/>
<rect x="586" y="15" width="3" height="1" fill="#b4b4b4" shape-rendering="crispEdges"/>
<rect x="586" y="17" width="3" height="1" fill="#b4b4b4" shape-rendering="crispEdges"/>
<rect x="586" y="19" width="3" height="1" fill="#b4b4b4" shape-rendering="crispEdges"/>
<rect x="649" y="1" width="1" height="21" fill="#a0a0a0" shape-rendering="crispEdges"/><rect x="650" y="1" width="1" height="21" fill="#ffffff" shape-rendering="crispEdges"/>
<rect x="888" y="0" width="1" height="23" fill="#a0a0a0" shape-rendering="crispEdges"/><rect x="889" y="0" width="1" height="23" fill="#ffffff" shape-rendering="crispEdges"/>
<rect x="892" y="3" width="3" height="1" fill="#b4b4b4" shape-rendering="crispEdges"/>
<rect x="892" y="5" width="3" height="1" fill="#b4b4b4" shape-rendering="crispEdges"/>
<rect x="892" y="7" width="3" height="1" fill="#b4b4b4" shape-rendering="crispEdges"/>
<rect x="892" y="9" width="3" height="1" fill="#b4b4b4" shape-rendering="crispEdges"/>
<rect x="892" y="11" width="3" height="1" fill="#b4b4b4" shape-rendering="crispEdges"/>
<rect x="892" y="13" width="3" height="1" fill="#b4b4b4" shape-rendering="crispEdges"/>
<rect x="892" y="15" width="3" height="1" fill="#b4b4b4" shape-rendering="crispEdges"/>
<rect x="892" y="17" width="3" height="1" fill="#b4b4b4" shape-rendering="crispEdges"/>
<rect x="892" y="19" width="3" height="1" fill="#b4b4b4" shape-rendering="crispEdges"/>
<rect x="1149" y="0" width="1" height="23" fill="#a0a0a0" shape-rendering="crispEdges"/><rect x="1150" y="0" width="1" height="23" fill="#ffffff" shape-rendering="crispEdges"/>
<rect x="0" y="6" width="1" height="15" fill="#c4c4c4"/>
<rect x="0" y="14" width="4" height="4" fill="#18c818" stroke="#0c8c0c" stroke-width="0.6"/>
<text x="7" y="15.3" font-family='"Liberation Sans", "Noto Sans CJK SC", sans-serif' font-size="12" fill="#000" stroke="#000" stroke-width="0.3">新订单</text>
<text x="159.5" y="15" font-family='"Liberation Sans", "Noto Sans CJK SC", sans-serif' font-size="11.7" fill="#000" stroke="#000" stroke-width="0.3">自动交易</text>
<polygon points="54.8,13.2 62.4,18.2 71,12.9 71,14.4 62.5,19.9 54.8,14.7" fill="#b8820e" stroke="#8a5c06" stroke-width="0.5"/>
<polygon points="59.8,5.3 71,12.9 62.4,18.2 54.8,13.2" fill="url(#gold)" stroke="#a87408" stroke-width="0.7"/>
<polyline points="55.4,14 62.4,18.9 70.6,13.8" fill="none" stroke="#f6e6a8" stroke-width="0.6"/>
<polygon points="59.8,5.3 61.6,6.5 57.2,11.2 54.8,13.2" fill="#fdf0a8" opacity="0.7"/>
<polygon points="85.5,5.5 91,4.3 95.8,5.5 95.8,13.5 85.5,13.5" fill="url(#blu)"/>
<rect x="89" y="7" width="6" height="5" fill="#8cc8ff" opacity="0.8"/><rect x="90" y="8" width="4" height="0.8" fill="#fff"/><rect x="86.6" y="5.8" width="0.9" height="7" fill="#d8ecff"/>
<path d="M84.5,19.6 C82.5,19.6 82.3,16.2 85.2,16 C85.2,13.2 89.4,12.4 90.8,14.4 C92.2,12 96.6,12.8 96.3,15.4 C99.4,15.2 99.8,19.6 97,19.6 Z" fill="#e6ecf6" stroke="#7c98c8" stroke-width="0.8"/>
<circle cx="119" cy="11.9" r="7.9" fill="#f6f8f4"/>
<path d="M119.0,11.9 L119.00,19.80 A7.9,7.9 0 0 0 122.95,18.74 Z" fill="#2ca02c" opacity="0.85"/>
<path d="M119.0,11.9 L122.95,18.74 A7.9,7.9 0 0 0 125.84,15.85 Z" fill="#2ca02c" opacity="0.7"/>
<path d="M119.0,11.9 L125.84,15.85 A7.9,7.9 0 0 0 126.90,11.90 Z" fill="#2ca02c" opacity="0.55"/>
<path d="M119.0,11.9 L126.90,11.90 A7.9,7.9 0 0 0 125.84,7.95 Z" fill="#2ca02c" opacity="0.42"/>
<path d="M119.0,11.9 L125.84,7.95 A7.9,7.9 0 0 0 122.95,5.06 Z" fill="#2ca02c" opacity="0.28"/>
<path d="M119.0,11.9 L122.95,5.06 A7.9,7.9 0 0 0 119.00,4.00 Z" fill="#2ca02c" opacity="0.16"/>
<circle cx="119" cy="11.9" r="6.7" fill="none" stroke="#3b6fd0" stroke-width="0.9" opacity="0.75" stroke-dasharray="1.6 0.5"/>
<circle cx="119" cy="11.9" r="3.9" fill="none" stroke="#3b6fd0" stroke-width="0.9" opacity="0.75" stroke-dasharray="1.4 0.5"/>
<circle cx="118.7" cy="11.7" r="1.8" fill="#2454c8"/><rect x="118.8" y="12" width="1.2" height="7.7" fill="#18a018"/>
<polygon points="138.4,11.6 153.9,10.9 146.8,19.7 144,19.4" fill="#f8dc48" stroke="#c89810" stroke-width="0.6"/>
<polygon points="140,12.2 150,12 145.6,18.4" fill="#fff088" opacity="0.7"/>
<ellipse cx="146.1" cy="8.7" rx="7.8" ry="2.5" fill="#52a8e0" stroke="#2a7cb0" stroke-width="0.7"/>
<ellipse cx="145.5" cy="6.5" rx="3.5" ry="2.5" fill="#78c0ee" stroke="#2a7cb0" stroke-width="0.5"/>
<circle cx="150.5" cy="15.8" r="4.05" fill="#d82410"/><rect x="149.3" y="14.5" width="2.6" height="2.6" fill="#fff"/>
<path d="M232.4,6.8 V19.7 M230.2,17.65 H243.2" stroke="#555555" stroke-width="1.25" fill="none"/>
<polygon points="230.70000000000002,8.3 232.4,5.9 234.1,8.3" fill="#555555"/><polygon points="241.6,15.95 244.0,17.65 241.6,19.35" fill="#555555"/>
<path d="M238.7,8.2 V15.4 M238.7,8.6 H241 M236.4,15 H238.7" stroke="#189818" stroke-width="1.2" fill="none"/>
<path d="M260.4,6.8 V19.7 M258.3,17.65 H271.2" stroke="#555555" stroke-width="1.25" fill="none"/>
<polygon points="258.7,8.3 260.4,5.9 262.09999999999997,8.3" fill="#555555"/><polygon points="269.59999999999997,15.95 272.0,17.65 269.59999999999997,19.35" fill="#555555"/>
<rect x="266" y="4.4" width="1" height="11.4" fill="#087008"/><rect x="264.6" y="6.4" width="3.9" height="7.4" fill="#10d010" stroke="#087008" stroke-width="0.8"/>
<path d="M288.4,6.8 V19.7 M286.3,17.65 H299.2" stroke="#555555" stroke-width="1.25" fill="none"/>
<polygon points="286.7,8.3 288.4,5.9 290.09999999999997,8.3" fill="#555555"/><polygon points="297.59999999999997,15.95 300.0,17.65 297.59999999999997,19.35" fill="#555555"/>
<path d="M287.2,14.9 C289.5,12 291,9.2 293.2,9.1 C295.2,9 297,11.6 298.9,13.2" stroke="#189818" stroke-width="1.2" fill="none"/>
<line x1="328.1" y1="13.9" x2="333.3" y2="18.2" stroke="#a07408" stroke-width="3.4" stroke-linecap="butt"/>
<line x1="328.1" y1="13.9" x2="333.0" y2="17.95" stroke="#ecd040" stroke-width="2" stroke-linecap="butt"/>
<circle cx="324.1" cy="9.85" r="5.5" fill="#d6eefb" stroke="#3878c0" stroke-width="1.1"/>
<rect x="320.90000000000003" y="9" width="6.4" height="1.7" fill="#3a86b0"/>
<rect x="323.25" y="6.65" width="1.7" height="6.4" fill="#3a86b0"/>
<line x1="356.1" y1="13.9" x2="361.3" y2="18.2" stroke="#a07408" stroke-width="3.4" stroke-linecap="butt"/>
<line x1="356.1" y1="13.9" x2="361.0" y2="17.95" stroke="#ecd040" stroke-width="2" stroke-linecap="butt"/>
<circle cx="352.1" cy="9.85" r="5.5" fill="#d6eefb" stroke="#3878c0" stroke-width="1.1"/>
<rect x="348.90000000000003" y="9" width="6.4" height="1.7" fill="#3a86b0"/>
<rect x="374" y="4" width="8" height="8" fill="#38a018"/><rect x="374" y="4" width="8" height="1.6" fill="#2c8410" opacity="0.6"/>
<rect x="375.2" y="4.9" width="0.9" height="0.9" fill="#e8f0e8"/>
<path d="M375.3,7.4 H380.8 V10.8 H379.8 V10 H376.3 V10.8 H375.3 Z" fill="#fdfdfd"/><rect x="376.2" y="8.3" width="3.8" height="0.7" fill="#a8dc90"/>
<rect x="382" y="4" width="8" height="8" fill="#2050c8"/><rect x="382" y="4" width="8" height="1.6" fill="#1838a0" opacity="0.6"/>
<rect x="383.2" y="4.9" width="0.9" height="0.9" fill="#e8f0e8"/>
<path d="M383.3,7.4 H388.8 V10.8 H387.8 V10 H384.3 V10.8 H383.3 Z" fill="#fdfdfd"/><rect x="384.2" y="8.3" width="3.8" height="0.7" fill="#a8c0f0"/>
<rect x="374" y="12" width="8" height="8" fill="#2050c8"/><rect x="374" y="12" width="8" height="1.6" fill="#1838a0" opacity="0.6"/>
<rect x="375.2" y="12.9" width="0.9" height="0.9" fill="#e8f0e8"/>
<path d="M375.3,15.4 H380.8 V18.8 H379.8 V18 H376.3 V18.8 H375.3 Z" fill="#fdfdfd"/><rect x="376.2" y="16.3" width="3.8" height="0.7" fill="#a8c0f0"/>
<rect x="382" y="12" width="8" height="8" fill="#38a018"/><rect x="382" y="12" width="8" height="1.6" fill="#2c8410" opacity="0.6"/>
<rect x="383.2" y="12.9" width="0.9" height="0.9" fill="#e8f0e8"/>
<path d="M383.3,15.4 H388.8 V18.8 H387.8 V18 H384.3 V18.8 H383.3 Z" fill="#fdfdfd"/><rect x="384.2" y="16.3" width="3.8" height="0.7" fill="#a8dc90"/>
<path d="M412.7,6.8 V19.7 M410.1,17.65 H423.2" stroke="#555555" stroke-width="1.25" fill="none"/>
<polygon points="411.0,8.3 412.7,5.9 414.4,8.3" fill="#555555"/><polygon points="421.59999999999997,15.95 424.0,17.65 421.59999999999997,19.35" fill="#555555"/>
<polygon points="417.2,8.3 417.2,14.7 421,11.5" fill="#90e890" stroke="#189818" stroke-width="1"/>
<path d="M440.6,6.8 V19.7 M438.1,17.65 H451.2" stroke="#555555" stroke-width="1.25" fill="none"/>
<polygon points="438.90000000000003,8.3 440.6,5.9 442.3,8.3" fill="#555555"/><polygon points="449.59999999999997,15.95 452.0,17.65 449.59999999999997,19.35" fill="#555555"/>
<rect x="445.9" y="6.3" width="1.3" height="9.4" fill="#1878a8"/><path d="M451.8,11.5 H448" stroke="#e04810" stroke-width="1.1"/><polygon points="447.2,11.5 449.4,9.3 449.4,13.7" fill="#e04810"/>
<path d="M471.5,4.6 H479.5 L482.6,7.6 V17 H471.5 Z" fill="#fafafa" stroke="#8c8c8c" stroke-width="0.9"/><path d="M479.5,4.6 V7.6 H482.6" fill="none" stroke="#8c8c8c" stroke-width="0.8"/>
<path d="M474,8 V14 M474,11 H476.5" stroke="#707070" stroke-width="0.9" fill="none"/>
<path d="M479.2,10.6 H483 V14.6 H487 V18.4 H483 V22 H479.2 V18.4 H475.2 V14.6 H479.2 Z" fill="#28cc28" stroke="#0c800c" stroke-width="0.8"/>
<polygon points="492.7,11 498.3,11 495.5,13.8" fill="#000"/>
<circle cx="517" cy="11.9" r="8.1" fill="url(#clk)"/><circle cx="517" cy="11.9" r="5.5" fill="#f2f5fa"/>
<path d="M517,8.3 V12.1 H519.8" stroke="#303848" stroke-width="1.1" fill="none"/>
<path d="M517,6.9 v0.9 M517,16 v0.9 M512,11.9 h0.9 M521.1,11.9 h0.9" stroke="#8890a0" stroke-width="0.8"/>
<polygon points="531.5,11 537.0999999999999,11 534.3,13.8" fill="#000"/>
<rect x="548.4" y="5.2" width="15.4" height="13.6" fill="#fafcff" stroke="#3464c4" stroke-width="1"/><rect x="548.4" y="5.2" width="15.4" height="2.6" fill="#8cb4ec"/><rect x="548.4" y="12.6" width="15.4" height="1" fill="#3464c4"/>
<polyline points="550,11 553,10 555.5,10.6 558,9.2 562,9.6" fill="none" stroke="#a83418" stroke-width="1.1"/>
<polyline points="550,16.6 553,15.6 555.5,16.6 558.5,14.8 562,16.4" fill="none" stroke="#18a018" stroke-width="1.1"/>
<polygon points="570.4000000000001,11 576.0,11 573.2,13.8" fill="#000"/>
<polygon points="600.1,4.8 600.1,15.9 602.8,13.5 605.2,19.3 607,18.5 604.8,12.8 608,12.5" fill="#444"/>
<path d="M632.5,4.8 V11 M632.5,13.8 V20 M625,12.4 H631 M634,12.4 H640" stroke="#555555" stroke-width="1.1" fill="none"/>
<path d="M666.7,6 V19" stroke="#555555" stroke-width="1.3"/><path d="M689,12.4 H701" stroke="#555555" stroke-width="1.3"/><path d="M716.8,19 L728.8,7" stroke="#555555" stroke-width="1.3"/>
<path d="M743,16.5 L755.5,6.5 M744.5,19 L757,9 M746.5,12 L749.5,17.5 M750,9.5 L752.5,15 M753.5,6 L755.5,12" stroke="#555555" stroke-width="1" fill="none"/>
<text x="753.6" y="20.6" font-family='"Liberation Sans", sans-serif' font-size="6.5" font-weight="bold" fill="#3c3c3c">E</text>
<line x1="772.3" y1="5.3" x2="785.6" y2="5.3" stroke="#555555" stroke-width="1" stroke-dasharray="1 1"/>
<line x1="772.3" y1="8.6" x2="785.6" y2="8.6" stroke="#555555" stroke-width="1" stroke-dasharray="1 1"/>
<line x1="772.3" y1="12.4" x2="785.6" y2="12.4" stroke="#555555" stroke-width="1" stroke-dasharray="1 1"/>
<line x1="772.3" y1="16.4" x2="780.5" y2="16.4" stroke="#555555" stroke-width="1" stroke-dasharray="1 1"/>
<text x="781.6" y="20.6" font-family='"Liberation Sans", sans-serif' font-size="6.5" font-weight="bold" fill="#3c3c3c">F</text>
<text x="806.7" y="16.4" text-anchor="middle" font-family='"Liberation Sans", sans-serif' font-size="11.4" font-weight="bold" fill="#4a4a4a">A</text>
<rect x="829" y="6" width="12" height="12.6" fill="none" stroke="#555555" stroke-width="1" stroke-dasharray="1 1"/>
<text x="835" y="16.6" text-anchor="middle" font-family='"Liberation Sans", sans-serif' font-size="10.6" font-weight="bold" fill="#4a4a4a">T</text>
<polygon points="859.2,5.6 862,8.4 859.2,11.2 856.4,8.4" fill="#555555"/><polygon points="867,13.4 869.8,16.2 867,19 864.2,16.2" fill="#555555"/>
<polyline points="858.4,13.4 860.6,15.8 865.4,9.6" fill="none" stroke="#555555" stroke-width="1.2"/>
<polygon points="876.8000000000001,11 882.4,11 879.6,13.8" fill="#000"/>
<text x="909.9" y="15.9" text-anchor="middle" font-family='"Liberation Sans", sans-serif' font-size="9.1" fill="#383838" text-rendering="geometricPrecision">M1</text>
<text x="937.9" y="15.9" text-anchor="middle" font-family='"Liberation Sans", sans-serif' font-size="9.1" fill="#383838" text-rendering="geometricPrecision">M5</text>
<text x="966.6" y="15.9" text-anchor="middle" font-family='"Liberation Sans", sans-serif' font-size="9.1" fill="#383838" text-rendering="geometricPrecision">M15</text>
<text x="994.4" y="15.9" text-anchor="middle" font-family='"Liberation Sans", sans-serif' font-size="9.1" fill="#383838" text-rendering="geometricPrecision">M30</text>
<text x="1022.4" y="15.9" text-anchor="middle" font-family='"Liberation Sans", sans-serif' font-size="9.1" fill="#383838" text-rendering="geometricPrecision">H1</text>
<text x="1049.8" y="15.9" text-anchor="middle" font-family='"Liberation Sans", sans-serif' font-size="9.1" fill="#383838" text-rendering="geometricPrecision">H4</text>
<text x="1078.4" y="15.9" text-anchor="middle" font-family='"Liberation Sans", sans-serif' font-size="9.1" fill="#383838" text-rendering="geometricPrecision">D1</text>
<text x="1107" y="15.9" text-anchor="middle" font-family='"Liberation Sans", sans-serif' font-size="9.1" fill="#383838" text-rendering="geometricPrecision">W1</text>
<text x="1134" y="15.9" text-anchor="middle" font-family='"Liberation Sans", sans-serif' font-size="9.1" fill="#383838" text-rendering="geometricPrecision">MN</text>
<line x1="1616.2" y1="12.8" x2="1612" y2="16.8" stroke="#2458c8" stroke-width="2.4" stroke-linecap="round"/><circle cx="1619.6" cy="9.5" r="3.9" fill="#f4f6ff" stroke="#2c64d4" stroke-width="1.2"/>
<path d="M1636.4,13.9 C1636.4,8 1647.2,8 1647.2,13.9 C1647.2,17.6 1643.5,18.4 1641,18.4 L1639.4,20.6 L1639.2,18.2 C1637.5,17.6 1636.4,16 1636.4,13.9 Z" fill="#e4e4f0" stroke="#b0b0b4" stroke-width="0.8"/>
<circle cx="1650.7" cy="9.6" r="8.1" fill="url(#badge)"/>
<text x="1649.6" y="14.2" text-anchor="middle" font-family='"Liberation Sans", sans-serif' font-size="12.4" fill="#fff" stroke="#fff" stroke-width="0.5">1</text>
</svg>
</body></html>
